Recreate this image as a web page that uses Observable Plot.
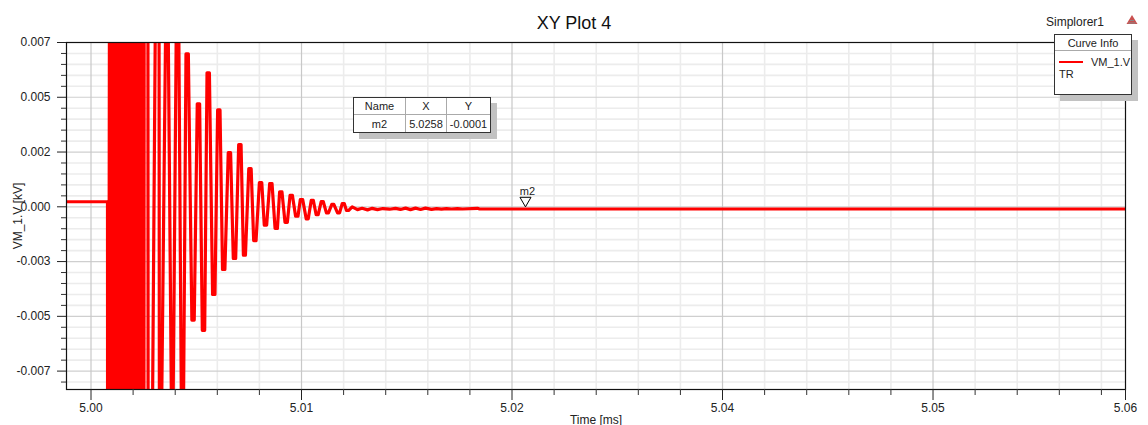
<!DOCTYPE html>
<html>
<head>
<meta charset="utf-8">
<script src="https://cdn.jsdelivr.net/npm/d3@7"></script>
<script src="https://cdn.jsdelivr.net/npm/@observablehq/plot@0.6"></script>
<style>
html,body{margin:0;padding:0;background:#fff;overflow:hidden}
#wrap{position:relative;width:1148px;height:425px;font-family:"Liberation Sans",Arial,sans-serif;color:#222}
#wrap svg{display:block}
.box{position:absolute;background:#fff;border:1.5px solid #333;box-sizing:border-box;box-shadow:6px 6px 0 #c2c2c2;font-size:11px}
#mtable{left:353px;top:97px;width:138px;height:36px;display:grid;grid-template-columns:52px 41px 1fr;grid-template-rows:17px 1fr}
#mtable div{display:flex;align-items:center;justify-content:center;border-right:1px solid #aaa;border-bottom:1px solid #aaa}
#mtable div:nth-child(3n){border-right:none}
#mtable div:nth-child(n+4){border-bottom:none}
#legend{left:1054px;top:34px;width:78px;height:61px}
#legend .h{position:absolute;left:0;right:0;top:0;height:15px;border-bottom:1px solid #aaa;text-align:center;line-height:17px}
#legend .s{position:absolute;left:4px;top:26px;width:24px;height:2px;background:#f00}
#legend .n{position:absolute;left:36px;top:21px}
#legend .t{position:absolute;left:4px;top:33px}
#sim{position:absolute;left:1046px;top:15px;font-size:12px}
#warn{position:absolute;left:1126px;top:14px}
</style>
</head>
<body>
<div id="wrap"></div>
<script>
const chartTitle = "XY Plot 4";
const xLabel = "Time [ms]";
const yLabel = "VM_1.V [kV]";
const curveColor = "#ff0000";

const xDomain = [4.998545, 5.06143];
const yDomain = [-0.00834, 0.0075];
const xMajor = [5.00, 5.0125, 5.025, 5.0375, 5.05, 5.06143];
const xTickLabels = ["5.00", "5.01", "5.02", "5.04", "5.05", "5.06"];
const xMinor = [5.0025,5.005,5.0075,5.01,5.015,5.0175,5.02,5.0225,5.0275,5.03,5.0325,5.035,5.04,5.0425,5.045,5.0475,5.0525,5.055,5.0575,5.06];
const yMajor = [0.0075, 0.005, 0.0025, 0, -0.0025, -0.005, -0.0075];
const yTickLabels = ["0.007", "0.005", "0.002", "0.000", "-0.003", "-0.005", "-0.007"];
const yMinor = [0.007,0.0065,0.006,0.0055,0.0045,0.004,0.0035,0.003,0.002,0.0015,0.001,0.0005,-0.0005,-0.001,-0.0015,-0.002,-0.003,-0.0035,-0.004,-0.0045,-0.0055,-0.006,-0.0065,-0.007,-0.008];

// time [ms] and voltage [kV] of curve VM_1.V:TR (values beyond the frame are clipped)
const times = [4.998545,5.00098,5.00100,
 5.00116,5.00128,5.00140,5.00151,5.00163,5.00175,5.00187,5.00199,5.00211,5.00223,5.00235,5.00246,5.00258,5.00270,5.00282,5.00294,5.00306,5.00312,5.00318,
 5.00338,5.00339,5.00365,5.00383,5.00404,5.00406,5.00419,5.00445,5.00457,5.00478,5.00487,5.00508,5.00520,5.00537,5.00549,
 5.00564,5.00578,5.00599,5.00613,5.00631,5.00645,5.00661,5.00675,5.00689,5.00703,5.00722,5.00736,5.00752,5.00766,5.00781,5.00795,
 5.00815,5.00829,5.00845,5.00859,5.00877,5.00891,5.00905,5.00917,5.00937,5.00951,
 5.00966,5.00980,5.01000,5.01014,5.01029,5.01043,5.01061,5.01075,5.01093,5.01107,5.01120,5.01134,5.01152,5.01166,5.01182,5.01196,5.01215,5.01229,5.01243,5.01257,
 5.01278,5.01290,5.01308,5.01320,5.01337,5.01349,5.01367,5.01379,5.01398,5.01410,5.01430,5.01442,5.01464,5.01476,5.01492,5.01504,5.01517,5.01529,
 5.01551,5.01582,5.01610,5.01642,5.01670,5.01701,5.01733,5.01773,5.01808,5.01838,5.01868,5.01897,5.01927,5.01957,5.01986,5.02022,5.02052,5.02081,5.02111,5.02141,5.02176,5.02206,5.02295,5.02307,5.06143];
const volts = [0.00023,0.00023,-0.05,
 0.05,-0.05,0.05,-0.05,0.05,-0.05,0.05,-0.05,0.05,-0.05,0.05,-0.05,0.05,-0.05,0.05,-0.05,0.05,-0.05,0.05,
 0.0095,-0.0095,-0.0095,0.0095,0.0095,-0.0095,-0.0095,0.0095,0.0095,-0.0095,-0.0095,0.0095,0.0095,-0.0095,-0.0095,
 0.00698,0.00698,-0.00517,-0.00517,0.00470,0.00470,-0.00564,-0.00564,0.00612,0.00612,-0.00400,-0.00400,0.00442,0.00442,-0.00286,-0.00286,
 0.00247,0.00247,-0.00236,-0.00236,0.00284,0.00284,-0.00221,-0.00221,0.00174,0.00174,
 -0.00154,-0.00154,0.00110,0.00110,-0.00084,-0.00084,0.00106,0.00106,-0.00099,-0.00099,0.00068,0.00068,-0.00071,-0.00071,0.00052,0.00052,-0.00043,-0.00043,0.00033,0.00033,
 -0.00055,-0.00055,0.00030,0.00030,-0.00036,-0.00036,0.00024,0.00024,-0.00028,-0.00028,0.00011,0.00011,-0.00028,-0.00028,0.00015,0.00015,-0.00017,-0.00017,
 0.00000,-0.00013,-0.00007,-0.00014,-0.00007,-0.00013,-0.00008,-0.00011,-0.00007,-0.00012,-0.00006,-0.00013,-0.00006,-0.00012,-0.00006,-0.00012,-0.00008,-0.00011,-0.00008,-0.00010,-0.00008,-0.00010,-0.00007,-0.00010,-0.00010];

const markerName = "m2";
const markerX = 5.0258;
const markerY = -0.0001;
const tableHeader = ["Name", "X", "Y"];
const tableRow = ["m2", "5.0258", "-0.0001"];
const legendTitle = "Curve Info";
const legendCurve = "VM_1.V";
const legendSweep = "TR";
const designName = "Simplorer1";

const xLab = new Map(xMajor.map((d, i) => [d, xTickLabels[i]]));
const yLab = new Map(yMajor.map((d, i) => [d, yTickLabels[i]]));

const plot = Plot.plot({
  width: 1148, height: 425,
  marginLeft: 66, marginRight: 23, marginTop: 42, marginBottom: 36,
  style: {fontFamily: '"Liberation Sans",Arial,sans-serif', fontSize: "12px", color: "#222", background: "#fff"},
  x: {domain: xDomain, label: null},
  y: {domain: yDomain, label: null},
  marks: [
    Plot.ruleY(yMinor, {stroke: "#ececec", strokeWidth: 1.6}),
    Plot.ruleX(xMinor, {stroke: "#ececec", strokeWidth: 1.6}),
    Plot.ruleY(yMajor, {stroke: "#cfcfcf", strokeWidth: 1.2}),
    Plot.ruleX(xMajor.slice(0, 5), {stroke: "#c8c8c8", strokeWidth: 1.2}),
    Plot.line(times, {x: times, y: volts, stroke: curveColor, strokeWidth: 3.2, clip: true, curve: "linear", strokeLinejoin: "round"}),
    Plot.frame({stroke: "#111", strokeWidth: 1.2}),
    Plot.axisX(xMinor, {anchor: "bottom", tickSize: 6, stroke: "#333", tickFormat: () => "", label: null}),
    Plot.axisX(xMajor, {anchor: "bottom", tickSize: 11, tickPadding: 3, stroke: "#222", tickFormat: d => xLab.get(d), label: null, fill: "#222", fontSize: 12}),
    Plot.axisY(yMinor, {anchor: "left", tickSize: 5, stroke: "#333", tickFormat: () => "", label: null}),
    Plot.axisY(yMajor, {anchor: "left", tickSize: 9, tickPadding: 7, stroke: "#222", tickFormat: d => yLab.get(d), label: null, fill: "#222", fontSize: 12}),
    Plot.dot([markerName], {x: [markerX], y: [markerY], symbol: "triangle", rotate: 180, r: 4.1, dy: -8.5, fill: "#fff", stroke: "#000", strokeWidth: 1}),
    Plot.text([markerName], {x: [markerX], y: [markerY], dy: -18, dx: 2, fontSize: 11, fill: "#222"}),
    Plot.text([chartTitle], {frameAnchor: "top", dy: -26, dx: -22, fontSize: 18, fill: "#111"}),
    Plot.text([xLabel], {frameAnchor: "bottom", dy: 34, fontSize: 12, fill: "#222"}),
    Plot.text([yLabel], {frameAnchor: "left", textAnchor: "middle", dx: -48, dy: 0, rotate: -90, fontSize: 12, fill: "#222"})
  ]
});
const wrap = document.getElementById("wrap");
wrap.appendChild(plot);

const tbl = document.createElement("div");
tbl.id = "mtable"; tbl.className = "box";
tbl.innerHTML = [...tableHeader, ...tableRow].map(s => `<div>${s}</div>`).join("");
wrap.appendChild(tbl);

const leg = document.createElement("div");
leg.id = "legend"; leg.className = "box";
leg.innerHTML = `<div class="h">${legendTitle}</div><div class="s"></div><div class="n">${legendCurve}</div><div class="t">${legendSweep}</div>`;
wrap.appendChild(leg);

const sim = document.createElement("div");
sim.id = "sim"; sim.textContent = designName;
wrap.appendChild(sim);

const warn = document.createElement("div");
warn.id = "warn";
warn.innerHTML = '<svg width="12" height="11"><polygon points="6,1 11.5,10 0.5,10" fill="#c9504f"/><path d="M4,6.5H8M2.5,9H9.5" stroke="#888" stroke-width="1"/></svg>';
wrap.appendChild(warn);
</script>
</body>
</html>
